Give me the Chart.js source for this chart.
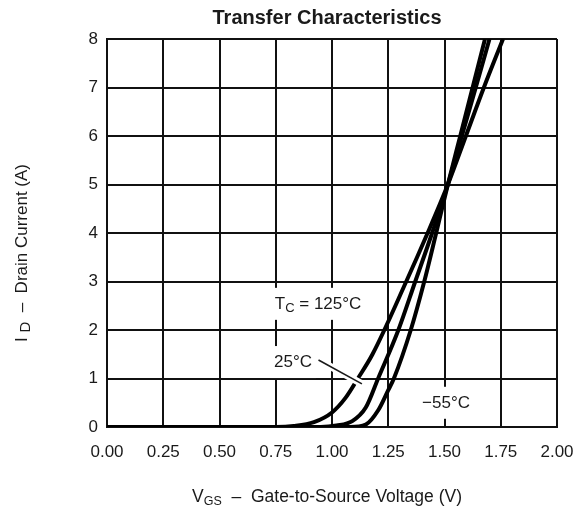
<!DOCTYPE html>
<html>
<head>
<meta charset="utf-8">
<script src="https://cdn.jsdelivr.net/npm/chart.js@4.4.1/dist/chart.umd.min.js"></script>
<style>
    html, body { margin: 0; padding: 0; background: #fff; }
    canvas { display: block; }
</style>
</head>
<body>
<canvas id="transfer-chart" width="580" height="509"></canvas>
<script>
// tick labels
const xTickLabels = ['0.00', '0.25', '0.50', '0.75', '1.00', '1.25', '1.50', '1.75', '2.00'];
const yTickLabels = ['0', '1', '2', '3', '4', '5', '6', '7', '8'];

// TC = 125°C
const vgs125 = [0, 0.75, 0.83, 0.92, 1.0, 1.06, 1.115, 1.18, 1.33, 1.425, 1.515, 1.595, 1.675, 1.76];
const id125 = [0, 0, 0.02, 0.1, 0.3, 0.6, 1.0, 1.5, 3.0, 4.0, 5.0, 6.0, 7.0, 8.0];

// 25°C
const vgs25 = [0, 0.95, 1.02, 1.09, 1.15, 1.205, 1.295, 1.37, 1.445, 1.515, 1.577, 1.639, 1.70];
const id25 = [0, 0, 0.03, 0.12, 0.4, 1.0, 2.0, 3.0, 4.0, 5.0, 6.0, 7.0, 8.0];

// -55°C
const vgsM55 = [0, 1.08, 1.15, 1.206, 1.25, 1.275, 1.35, 1.41, 1.463, 1.515, 1.57, 1.625, 1.68];
const idM55 = [0, 0, 0.05, 0.35, 0.76, 1.0, 2.0, 3.0, 4.0, 5.0, 6.0, 7.0, 8.0];

const FONT = '"Liberation Sans", Arial, Helvetica, sans-serif';
const INK = '#1a1a1a';

function toPoints(xs, ys) {
    return xs.map((x, i) => ({ x: x, y: ys[i] }));
}

function curve(xs, ys) {
    return {
        data: toPoints(xs, ys),
        showLine: true,
        borderColor: '#000',
        borderWidth: 4,
        pointRadius: 0,
        cubicInterpolationMode: 'monotone',
        fill: false
    };
}

// curve labels, placed in data units
const curveLabels = [
    { parts: [['T'], ['C', true], [' = 125°C']], x: 0.938, y: 2.56 },
    { parts: [['25°C']], x: 0.827, y: 1.36 },
    { parts: [['−55°C']], x: 1.507, y: 0.52 }
];
const pointer = { from: [0.94, 1.38], to: [1.133, 0.89] };

function drawRuns(ctx, parts, cx, baseY, size, subSize, align) {
    let total = 0;
    parts.forEach(p => {
        ctx.font = (p[1] ? subSize : size) + 'px ' + FONT;
        total += ctx.measureText(p[0]).width;
    });
    let x = align === 'center' ? cx - total / 2 : cx;
    ctx.textAlign = 'left';
    ctx.textBaseline = 'alphabetic';
    parts.forEach(p => {
        ctx.font = (p[1] ? subSize : size) + 'px ' + FONT;
        ctx.fillText(p[0], x, baseY + (p[1] ? 3 : 0));
        x += ctx.measureText(p[0]).width;
    });
    return total;
}

const textPlugin = {
    id: 'textPlugin',
    afterDatasetsDraw(chart) {
        const ctx = chart.ctx;
        const xs = chart.scales.x;
        const ys = chart.scales.y;
        ctx.save();

        // pointer from "25°C" to its curve, with a white halo
        const p1 = [xs.getPixelForValue(pointer.from[0]), ys.getPixelForValue(pointer.from[1])];
        const p2 = [xs.getPixelForValue(pointer.to[0]), ys.getPixelForValue(pointer.to[1])];
        ctx.strokeStyle = '#fff';
        ctx.lineWidth = 7;
        ctx.beginPath();
        ctx.moveTo(p1[0] + 4, p1[1] + 2);
        ctx.lineTo(p2[0], p2[1]);
        ctx.stroke();
        ctx.strokeStyle = INK;
        ctx.lineWidth = 1.6;
        ctx.beginPath();
        ctx.moveTo(p1[0], p1[1]);
        ctx.lineTo(p2[0], p2[1]);
        ctx.stroke();

        curveLabels.forEach(lab => {
            const cx = xs.getPixelForValue(lab.x);
            const cy = ys.getPixelForValue(lab.y);
            let w = 0;
            lab.parts.forEach(p => {
                ctx.font = (p[1] ? 13 : 17) + 'px ' + FONT;
                w += ctx.measureText(p[0]).width;
            });
            ctx.fillStyle = '#fff';
            ctx.fillRect(cx - w / 2 - 4, cy - 15, w + 8, 32);
            ctx.fillStyle = INK;
            drawRuns(ctx, lab.parts, cx, cy + 6, 17, 13, 'center');
        });
        ctx.restore();
    },
    afterDraw(chart) {
        const ctx = chart.ctx;
        const area = chart.chartArea;
        ctx.save();
        ctx.fillStyle = INK;

        // title
        ctx.font = 'bold 20px ' + FONT;
        ctx.textAlign = 'center';
        ctx.textBaseline = 'alphabetic';
        ctx.fillText('Transfer Characteristics', 327, 23.5);

        // x axis title
        drawRuns(ctx, [['V'], ['GS', true], ['  –  Gate-to-Source Voltage (V)']], 327, 501.5, 17.5, 12.5, 'center');

        // y axis title
        ctx.translate(27, (area.top + area.bottom) / 2 + 20);
        ctx.rotate(-Math.PI / 2);
        drawRuns(ctx, [['I '], ['D', true], ['  –  Drain Current (A)']], 0, 0, 17, 15, 'center');
        ctx.restore();
    }
};

new Chart(document.getElementById('transfer-chart').getContext('2d'), {
    type: 'scatter',
    data: {
        datasets: [curve(vgs125, id125), curve(vgs25, id25), curve(vgsM55, idM55)]
    },
    options: {
        responsive: false,
        animation: false,
        devicePixelRatio: 1,
        layout: { padding: { top: 39, right: 23, left: 0, bottom: 0 } },
        plugins: {
            legend: { display: false },
            tooltip: { enabled: false },
            title: { display: false }
        },
        scales: {
            x: {
                type: 'linear',
                min: 0,
                max: 2,
                afterFit: s => { s.height = 82; s.paddingLeft = 0; s.paddingRight = 0; },
                ticks: {
                    stepSize: 0.25,
                    padding: 15,
                    autoSkip: false,
                    maxRotation: 0,
                    color: INK,
                    font: { family: FONT, size: 17 },
                    callback: (v, i) => xTickLabels[i]
                },
                grid: { color: '#111', lineWidth: 2, drawTicks: false },
                border: { color: '#111', width: 2 }
            },
            y: {
                type: 'linear',
                min: 0,
                max: 8,
                afterFit: s => { s.width = 107; s.paddingTop = 0; s.paddingBottom = 0; },
                ticks: {
                    stepSize: 1,
                    padding: 9,
                    color: INK,
                    font: { family: FONT, size: 17 },
                    callback: v => yTickLabels[v]
                },
                grid: { color: '#111', lineWidth: 2, drawTicks: false },
                border: { color: '#111', width: 2 }
            }
        }
    },
    plugins: [textPlugin]
});
</script>
</body>
</html>
